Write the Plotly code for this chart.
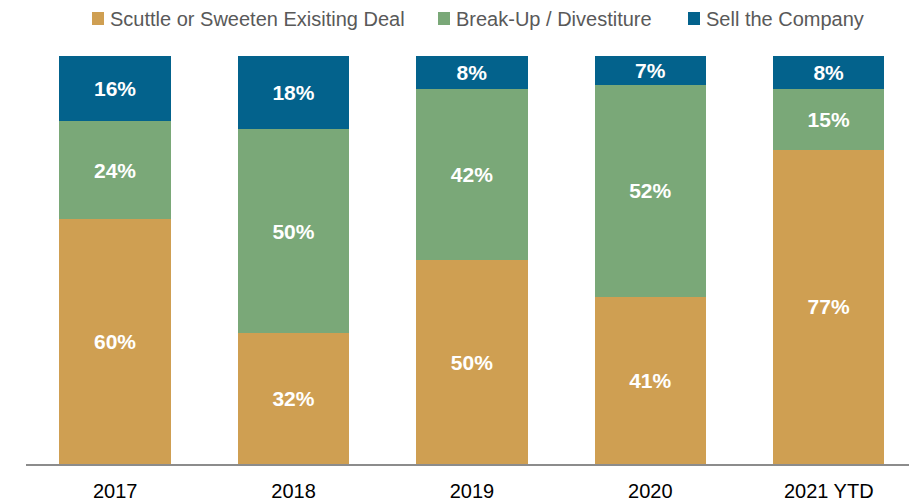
import plotly.graph_objects as go

# Deal outcome mix by year (share of campaigns, %)
years = ["2017", "2018", "2019", "2020", "2021 YTD"]
scuttle = [60, 32, 50, 41, 77]
breakup = [24, 50, 42, 52, 15]
sell = [16, 18, 8, 7, 8]

series_names = ["Scuttle or Sweeten Exisiting Deal", "Break-Up / Divestiture", "Sell the Company"]
series_values = [scuttle, breakup, sell]
series_colors = ["#CF9F52", "#7AA878", "#03628C"]

FONT = "Liberation Sans, Arial, sans-serif"

W, H = 909, 504
ML, MR, MT, MB = 26, 0, 56, 40
plot_w = W - ML - MR
plot_h = H - MT - MB

fig = go.Figure()
x_pos = list(range(len(years)))
for name, vals, color in zip(series_names, series_values, series_colors):
    fig.add_trace(go.Bar(
        x=x_pos,
        y=vals,
        name=name,
        marker=dict(color=color, line=dict(width=0)),
        width=0.625,
        text=[f"{v}%" for v in vals],
        textposition="inside",
        insidetextanchor="middle",
        textangle=0,
        textfont=dict(family=FONT, size=21, color="white", weight="bold"),
        hoverinfo="skip",
        showlegend=False,
    ))


def px_to_paper_x(px):
    return (px - ML) / plot_w


def px_to_paper_y(py):
    return (H - MB - py) / plot_h


# Custom legend row across the top
legend_square_left = [92, 438, 688]
shapes = []
annotations = []
for name, color, left in zip(series_names, series_colors, legend_square_left):
    shapes.append(dict(
        type="rect", xref="paper", yref="paper",
        x0=px_to_paper_x(left), x1=px_to_paper_x(left + 12),
        y0=px_to_paper_y(25), y1=px_to_paper_y(12),
        fillcolor=color, line=dict(width=0),
    ))
    annotations.append(dict(
        xref="paper", yref="paper",
        x=px_to_paper_x(left + 16), y=px_to_paper_y(18.5),
        xanchor="left", yanchor="middle",
        text=name, showarrow=False,
        font=dict(family=FONT, size=20, color="#595959"),
    ))

fig.update_layout(
    width=W, height=H,
    margin=dict(l=ML, r=MR, t=MT, b=MB, pad=0, autoexpand=False),
    barmode="stack",
    bargap=0.375,
    plot_bgcolor="white",
    paper_bgcolor="white",
    shapes=shapes,
    annotations=annotations,
    uniformtext=dict(mode="show", minsize=21),
    xaxis=dict(
        tickmode="array",
        tickvals=x_pos,
        ticktext=years,
        range=[-0.5, 4.45],
        showline=True,
        linecolor="#8C8C8C",
        linewidth=2,
        showgrid=False,
        zeroline=False,
        ticks="outside",
        ticklen=8,
        tickcolor="rgba(0,0,0,0)",
        tickfont=dict(family=FONT, size=20, color="#000000"),
        automargin=False,
        fixedrange=True,
    ),
    yaxis=dict(
        range=[0, 100],
        visible=False,
        showgrid=False,
        zeroline=False,
        automargin=False,
        fixedrange=True,
    ),
)

fig.write_html("out.html", config={"displayModeBar": False})
